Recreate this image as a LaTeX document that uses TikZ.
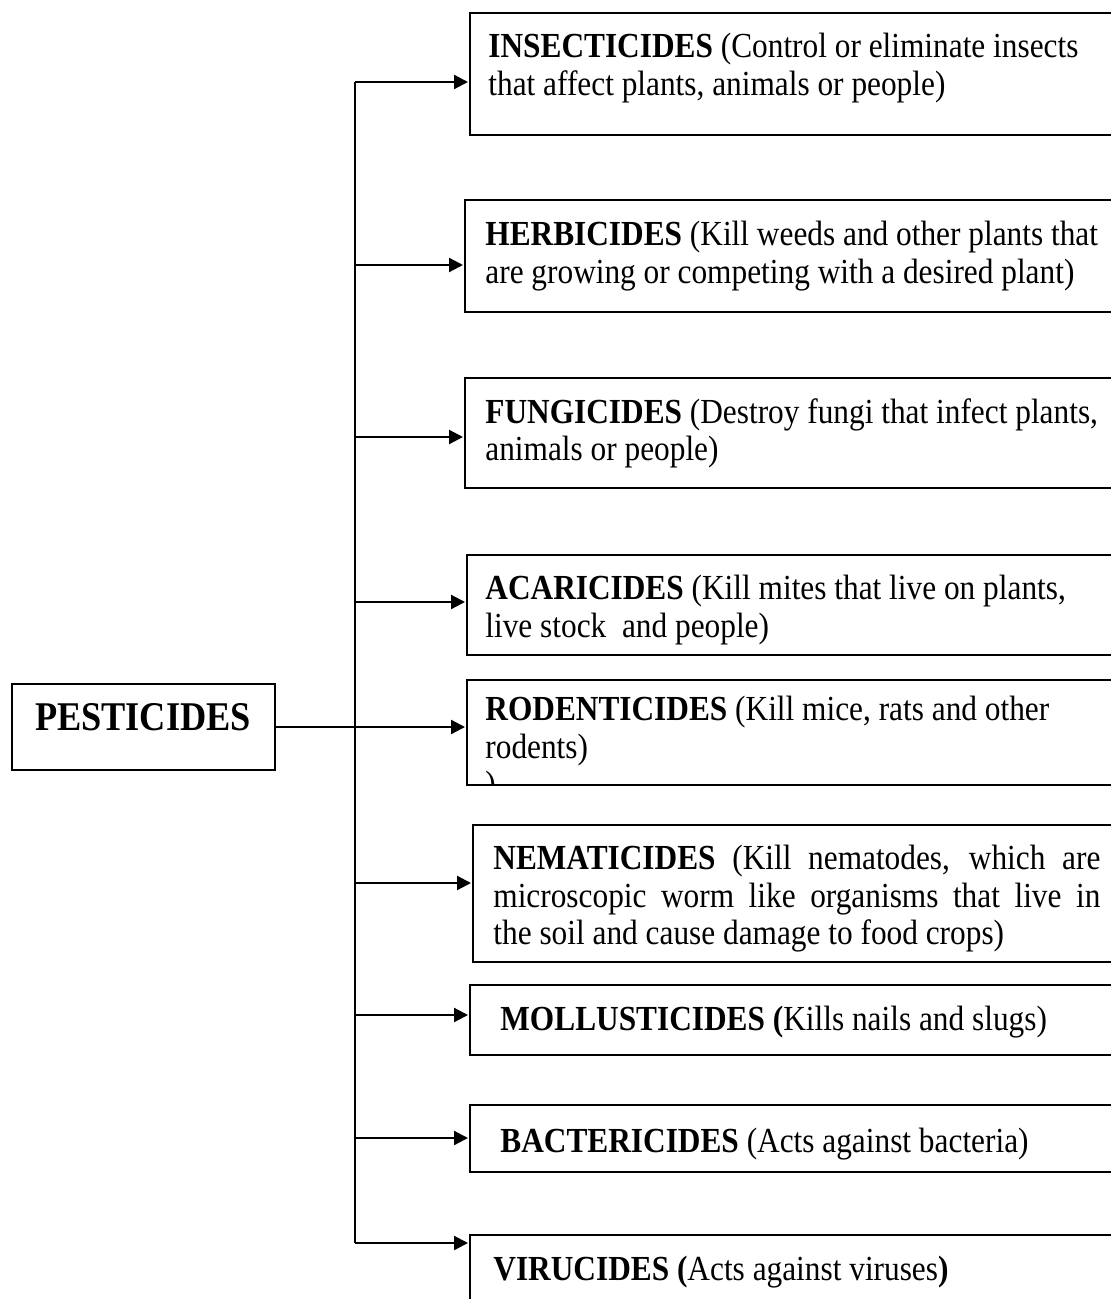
\documentclass[tikz,border=0pt]{standalone}
\usepackage{fontspec}
\setmainfont[FakeStretch=0.89]{Liberation Serif}
\usetikzlibrary{arrows.meta}
\begin{document}
\begin{tikzpicture}[x=0.5pt,y=-0.5pt,
  boxnode/.style={draw, line width=0.9pt, anchor=north west, inner sep=0pt, outer sep=0pt},
  txt/.style={anchor=north west, inner sep=0pt, align=left, font=\fontsize{17.6}{18.6}\selectfont},
  conn/.style={line width=1.1pt},
  arr/.style={line width=1.1pt, shorten >=1pt, -{Triangle[length=7pt,width=7pt]}}]
\useasboundingbox (0,0) rectangle (1111,1299);
\clip (0,0) rectangle (1111,1299);

% category boxes
\node[boxnode, minimum width=327.5pt, minimum height=61pt]   (b1) at (470,13)   {};
\node[boxnode, minimum width=330pt,   minimum height=56pt]   (b2) at (465,200)  {};
\node[boxnode, minimum width=330pt,   minimum height=55pt]   (b3) at (465,378)  {};
\node[boxnode, minimum width=329pt,   minimum height=50pt]   (b4) at (467,555)  {};
\node[boxnode, minimum width=329pt,   minimum height=52.5pt] (b5) at (467,680)  {};
\node[boxnode, minimum width=326pt,   minimum height=68.5pt] (b6) at (473,825)  {};
\node[boxnode, minimum width=327.5pt, minimum height=35pt]   (b7) at (470,985)  {};
\node[boxnode, minimum width=327.5pt, minimum height=33.5pt] (b8) at (470,1105) {};
\node[boxnode, minimum width=327.5pt, minimum height=42.5pt] (b9) at (470,1235) {};

% root box
\node[boxnode, minimum width=131.5pt, minimum height=43pt] (p) at (12,684) {};
\node[inner sep=0pt, font=\fontsize{20.4}{22}\selectfont\bfseries] (pt) at (143,717) {PESTICIDES};

% texts
\node[txt] (t1) at (488,33)  {\textbf{INSECTICIDES} (Control or eliminate insects\\that affect plants, animals or people)};
\node[txt] (t2) at (485,221) {\textbf{HERBICIDES} (Kill weeds and other plants that\\are growing or competing with a desired plant)};
\node[txt] (t3) at (485,398) {\textbf{FUNGICIDES} (Destroy fungi that infect plants,\\animals or people)};
\node[txt] (t4) at (485,575) {\textbf{ACARICIDES} (Kill mites that live on plants,\\live stock\ \ and people)};
\begin{scope}
  \clip (b5.north west) rectangle (b5.south east);
  \node[txt] (t5) at (485,696) {\textbf{RODENTICIDES} (Kill mice, rats and other\\rodents)\\)};
\end{scope}
\node[txt, align=justify, text width=303.5pt] (t6) at (493,845) {\textbf{NEMATICIDES} (Kill nematodes, which are\linebreak microscopic worm like organisms that live in\linebreak the soil and cause damage to food crops)};
\node[txt] (t7) at (500,1006) {\textbf{MOLLUSTICIDES (}Kills nails and slugs)};
\node[txt] (t8) at (500,1128) {\textbf{BACTERICIDES} (Acts against bacteria)};
\node[txt] (t9) at (493,1256) {\textbf{VIRUCIDES (}Acts against viruses\textbf{)}};

% junctions on the trunk
\coordinate (j1) at (355,82);
\coordinate (j2) at (355,265);
\coordinate (j3) at (355,437);
\coordinate (j4) at (355,602);
\coordinate (j6) at (355,883);
\coordinate (j7) at (355,1015);
\coordinate (j8) at (355,1138);
\coordinate (j9) at (355,1243);

% trunk
\draw[conn] (j1) -- (j9);

% branches
\draw[arr] (j1) -- (j1 -| b1.west);
\draw[arr] (j2) -- (j2 -| b2.west);
\draw[arr] (j3) -- (j3 -| b3.west);
\draw[arr] (j4) -- (j4 -| b4.west);
\draw[arr] (p.east) -- (p.east -| b5.west);
\draw[arr] (j6) -- (j6 -| b6.west);
\draw[arr] (j7) -- (j7 -| b7.west);
\draw[arr] (j8) -- (j8 -| b8.west);
\draw[arr] (j9) -- (j9 -| b9.west);
\end{tikzpicture}
\end{document}
